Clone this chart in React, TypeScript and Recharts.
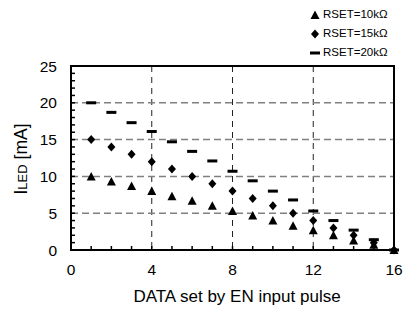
import React from "react";
import {
  ScatterChart,
  Scatter,
  XAxis,
  YAxis,
  CartesianGrid,
  Legend,
} from "recharts";

// EN input pulse count (x) and LED current in mA for each RSET value
const pulses = [1, 2, 3, 4, 5, 6, 7, 8, 9, 10, 11, 12, 13, 14, 15, 16];
const rset10k = [10, 9.3, 8.7, 8, 7.3, 6.7, 6, 5.3, 4.7, 4, 3.3, 2.7, 2, 1.3, 0.7, 0];
const rset15k = [15, 14, 13, 12, 11, 10, 9, 8, 7, 6, 5, 4, 3, 2, 1, 0];
const rset20k = [20, 18.7, 17.3, 16.1, 14.7, 13.4, 12.1, 10.7, 9.4, 8, 6.8, 5.3, 4, 2.7, 1.4, 0];

const seriesNames = ["RSET=10k\u03a9", "RSET=15k\u03a9", "RSET=20k\u03a9"];
const xTicks = [0, 1, 2, 3, 4, 5, 6, 7, 8, 9, 10, 11, 12, 13, 14, 15, 16];
const yTicks = [0, 1, 2, 3, 4, 5, 6, 7, 8, 9, 10, 11, 12, 13, 14, 15, 16, 17, 18, 19, 20, 21, 22, 23, 24, 25];
const xMajor = [0, 4, 8, 12, 16];
const yMajor = [0, 5, 10, 15, 20, 25];

const toPoints = (ys: number[]) => pulses.map((x, i) => ({ x, y: ys[i] }));

const FONT = "'Liberation Sans', Arial, sans-serif";

// layout
const W = 406;
const H = 312;
const MARGIN = { top: 66, right: 12, bottom: 0, left: 0 };
const Y_AXIS_W = 71;
const X_AXIS_H = 62;
const PLOT = {
  x: MARGIN.left + Y_AXIS_W,
  y: MARGIN.top,
  width: W - MARGIN.left - MARGIN.right - Y_AXIS_W,
  height: H - MARGIN.top - MARGIN.bottom - X_AXIS_H,
};

const Triangle = (props: any) => {
  const { cx, cy } = props;
  return (
    <polygon
      points={`${cx - 4.5},${cy + 4} ${cx + 4.5},${cy + 4} ${cx},${cy - 4.5}`}
      fill="#000"
    />
  );
};

const Diamond = (props: any) => {
  const { cx, cy } = props;
  return (
    <polygon
      points={`${cx},${cy - 4.5} ${cx + 4},${cy} ${cx},${cy + 4.5} ${cx - 4},${cy}`}
      fill="#000"
    />
  );
};

const Dash = (props: any) => {
  const { cx, cy } = props;
  return <rect x={cx - 5} y={cy - 1.5} width={10} height={3} fill="#000" />;
};

const shapes = [Triangle, Diamond, Dash];

const XTick = (props: any) => {
  const { x, y, payload } = props;
  const v = payload.value;
  return (
    <g>
      {v > 0 && v < 16 && <line x1={x} x2={x} y1={y} y2={y - 4} stroke="#000" strokeWidth={1.5} />}
      {xMajor.includes(v) && (
        <text x={x} y={y + 25} textAnchor="middle" fontFamily={FONT} fontSize={15.5} fill="#000">
          {v}
        </text>
      )}
    </g>
  );
};

const YTick = (props: any) => {
  const { x, y, payload } = props;
  const v = payload.value;
  return (
    <g>
      {v > 0 && v < 25 && <line x1={x} x2={x + 4} y1={y} y2={y} stroke="#000" strokeWidth={1.5} />}
      {yMajor.includes(v) && (
        <text x={x - 14} y={y + 5.5} textAnchor="end" fontFamily={FONT} fontSize={15.5} fill="#000">
          {v}
        </text>
      )}
    </g>
  );
};

const LegendContent = () => (
  <div style={{ fontFamily: FONT, fontSize: 11.5, color: "#000", lineHeight: "19px" }}>
    {seriesNames.map((name, i) => {
      const Shape = shapes[i];
      return (
        <div key={name} style={{ display: "flex", alignItems: "center" }}>
          <svg width={12} height={12} style={{ marginRight: 2 }}>
            <Shape cx={6} cy={6} />
          </svg>
          <span>{name}</span>
        </div>
      );
    })}
  </div>
);

export default function App() {
  const data = [toPoints(rset10k), toPoints(rset15k), toPoints(rset20k)];
  return (
    <div style={{ position: "absolute", left: 0, top: 0, background: "#fff" }}>
      <ScatterChart width={W} height={H} margin={MARGIN}>
        <CartesianGrid
          xAxisId="bottom"
          yAxisId="left"
          horizontal={false}
          stroke="#222"
          strokeDasharray="6 5"
          verticalValues={[4, 8, 12]}
        />
        <CartesianGrid
          xAxisId="bottom"
          yAxisId="left"
          vertical={false}
          stroke="#808080"
          strokeWidth={1.5}
          strokeDasharray="7 4"
          horizontalValues={[5, 10, 15, 20]}
        />
        {/* plot frame */}
        <rect
          x={PLOT.x}
          y={PLOT.y}
          width={PLOT.width}
          height={PLOT.height}
          fill="none"
          stroke="#000"
          strokeWidth={2}
        />
        <XAxis
          xAxisId="bottom"
          type="number"
          dataKey="x"
          domain={[0, 16]}
          ticks={xTicks}
          interval={0}
          height={X_AXIS_H}
          tickSize={0}
          tickMargin={0}
          tickLine={false}
          tick={<XTick />}
          axisLine={{ stroke: "#000", strokeWidth: 2 }}
        />
        <YAxis
          yAxisId="left"
          type="number"
          dataKey="y"
          domain={[0, 25]}
          ticks={yTicks}
          interval={0}
          width={Y_AXIS_W}
          tickSize={0}
          tickMargin={0}
          tickLine={false}
          tick={<YTick />}
          axisLine={{ stroke: "#000", strokeWidth: 2 }}
          label={{
            content: () => (
              <text
                transform="translate(27, 159) rotate(-90)"
                textAnchor="middle"
                fontFamily={FONT}
                fontSize={17.5}
                fill="#000"
              >
                I<tspan fontSize={13}>LED</tspan> [mA]
              </text>
            ),
          }}
        />
        <text x={237} y={302} textAnchor="middle" fontFamily={FONT} fontSize={17} fill="#000">
          DATA set by EN input pulse
        </text>
        {data.map((pts, i) => (
          <Scatter
            key={seriesNames[i]}
            name={seriesNames[i]}
            data={pts}
            xAxisId="bottom"
            yAxisId="left"
            fill="#000"
            shape={shapes[i]}
            isAnimationActive={false}
          />
        ))}
        <Legend
          layout="vertical"
          align="center"
          verticalAlign="middle"
          content={<LegendContent />}
          wrapperStyle={{ top: 5, left: 309, width: 95 }}
        />
      </ScatterChart>
    </div>
  );
}
